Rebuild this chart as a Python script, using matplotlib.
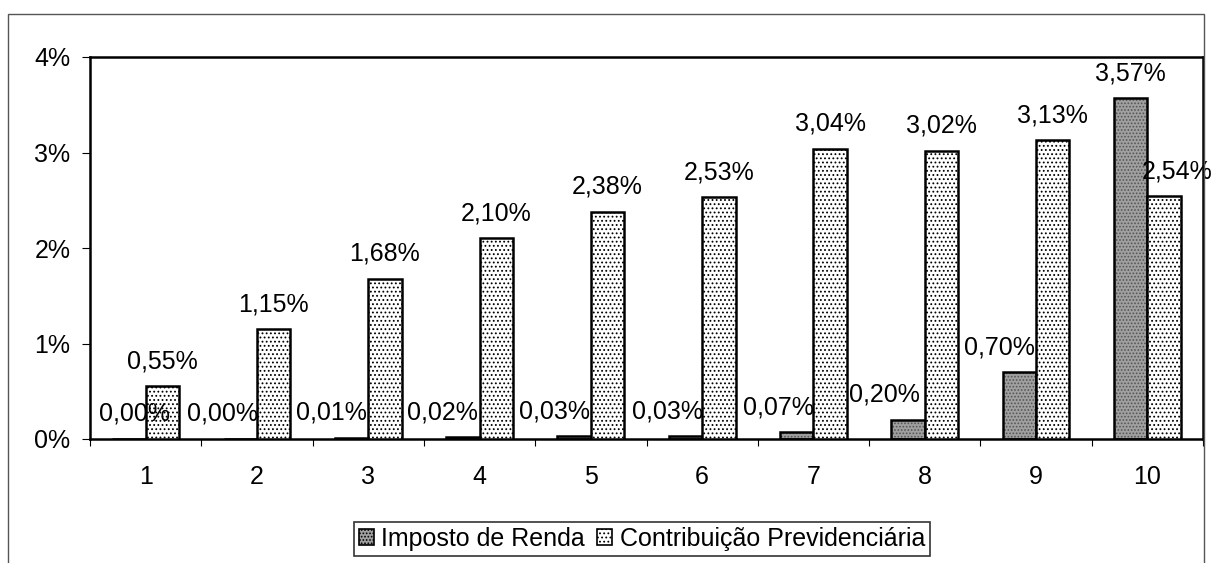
import matplotlib
matplotlib.use("Agg")
import matplotlib.pyplot as plt
import matplotlib.patches as mpatches
import numpy as np

plt.rcParams['font.family'] = ['Liberation Sans', 'DejaVu Sans']

categories = ['1', '2', '3', '4', '5', '6', '7', '8', '9', '10']
imposto_renda = [0.00, 0.00, 0.01, 0.02, 0.03, 0.03, 0.07, 0.20, 0.70, 3.57]
contribuicao = [0.55, 1.15, 1.68, 2.10, 2.38, 2.53, 3.04, 3.02, 3.13, 2.54]
series_names = ['Imposto de Renda', 'Contribuição Previdenciária']
y_ticks = [0, 1, 2, 3, 4]

# horizontal label offsets in pixels (styling)
ir_label_dx = [6, -18, -20, -20, -20, -18, -18, -24, -20, 0]
cp_label_dx = [0, 0, 0, 0, 0, 0, 0, 0, 0, 13]

FS = 18
W, H = 1212, 563
fig = plt.figure(figsize=(W / 100, H / 100), dpi=100)
ax = fig.add_axes([90 / W, 1 - 439 / H, (1203 - 90) / W, (439 - 57) / H])

x = np.arange(len(categories))
bw = 0.3
plt.rcParams['hatch.linewidth'] = 0.8

# Imposto de Renda: grey textured bars
ax.bar(x - bw / 2, imposto_renda, bw, facecolor='#a0a0a0', edgecolor='#555555',
       hatch='.....', linewidth=0, zorder=2)
ax.bar(x - bw / 2, imposto_renda, bw, facecolor='none', edgecolor='black',
       linewidth=1.8, zorder=3)
# Contribuição: white dotted bars
ax.bar(x + bw / 2, contribuicao, bw, facecolor='white', edgecolor='black',
       hatch='....', linewidth=1.8, zorder=3)

fmt = lambda v: f"{v:.2f}".replace('.', ',') + '%'
for i in range(len(categories)):
    ax.annotate(fmt(imposto_renda[i]), (x[i] - bw / 2, imposto_renda[i]),
                xytext=(ir_label_dx[i] * 0.72, 13), textcoords='offset points',
                ha='center', va='baseline', fontsize=FS, zorder=5,
                annotation_clip=False)
    ax.annotate(fmt(contribuicao[i]), (x[i] + bw / 2, contribuicao[i]),
                xytext=(cp_label_dx[i] * 0.72, 13), textcoords='offset points',
                ha='center', va='baseline', fontsize=FS, zorder=5,
                annotation_clip=False)

ax.set_xlim(-0.5, len(categories) - 0.5)
ax.set_ylim(0, 4)
ax.set_yticks(y_ticks)
ax.set_yticklabels([f"{t}%" for t in y_ticks], fontsize=FS)
ax.set_xticks(np.arange(len(categories) + 1) - 0.5)
ax.set_xticklabels([''] * (len(categories) + 1))
ax.set_xticks(x, minor=True)
ax.set_xticklabels(categories, minor=True, fontsize=FS)
ax.tick_params(axis='x', which='major', length=5, width=0.8, direction='out')
ax.tick_params(axis='x', which='minor', length=0, pad=19)
ax.tick_params(axis='y', length=6, width=0.8, pad=8)
for s in ax.spines.values():
    s.set_linewidth(1.8)
    s.set_color('black')

handles = [mpatches.Patch(facecolor='#a0a0a0', edgecolor='black', hatch='.....', linewidth=1.2),
           mpatches.Patch(facecolor='white', edgecolor='black', hatch='....', linewidth=1.2)]
leg = fig.legend(handles, series_names, loc='center', bbox_to_anchor=(642 / W, 1 - 539 / H),
                 ncol=2, fontsize=FS, frameon=True, fancybox=False, handlelength=0.6,
                 handleheight=0.6, handletextpad=0.3, columnspacing=0.5,
                 borderpad=0.2, borderaxespad=0)
leg.get_frame().set_edgecolor('black')
leg.get_frame().set_linewidth(1.2)

border = mpatches.Rectangle((8 / W, -0.05), (1204 - 8) / W, 1 - 14 / H + 0.05,
                            transform=fig.transFigure, fill=False,
                            edgecolor='#555555', linewidth=1.0, zorder=0)
fig.patches.append(border)

fig.savefig('out.png', dpi=100)
